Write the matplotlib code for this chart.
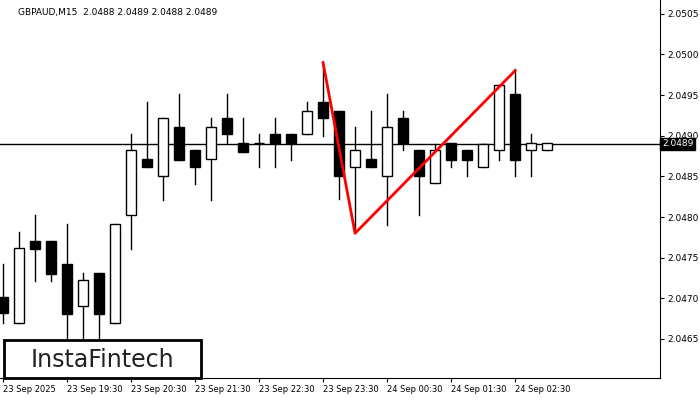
import matplotlib
matplotlib.use("Agg")
from matplotlib import pyplot as plt
from matplotlib.patches import Rectangle

# OHLC, GBPAUD M15
opens  = [2.04702, 2.0467, 2.04771, 2.04771, 2.04742, 2.04691, 2.04731, 2.0467, 2.04802, 2.04871,
          2.04851, 2.04911, 2.04882, 2.04871, 2.04922, 2.04891, 2.04891, 2.04902, 2.04902, 2.04902,
          2.04942, 2.04931, 2.04862, 2.04871, 2.0485, 2.04922, 2.04882, 2.04842, 2.04891, 2.04882,
          2.04862, 2.04882, 2.04951, 2.04882, 2.04882]
highs  = [2.04742, 2.04782, 2.04802, 2.04771, 2.04791, 2.04731, 2.04731, 2.04791, 2.04902, 2.04942,
          2.04922, 2.04951, 2.04882, 2.04922, 2.04951, 2.04922, 2.04902, 2.04922, 2.04902, 2.04942,
          2.0499, 2.04931, 2.04911, 2.04931, 2.04951, 2.04931, 2.04882, 2.0489, 2.04891, 2.04882,
          2.0489, 2.04962, 2.04982, 2.04902, 2.04891]
lows   = [2.0467, 2.0467, 2.04721, 2.04721, 2.04646, 2.04646, 2.04646, 2.0467, 2.04761, 2.04861,
          2.04821, 2.0487, 2.04841, 2.04821, 2.04891, 2.0488, 2.04861, 2.04861, 2.0487, 2.04902,
          2.0490, 2.04822, 2.04782, 2.04861, 2.0479, 2.04882, 2.04802, 2.04842, 2.04862, 2.0485,
          2.04862, 2.0487, 2.0485, 2.0485, 2.04882]
closes = [2.04682, 2.04762, 2.04761, 2.0473, 2.04681, 2.04722, 2.04681, 2.04791, 2.04882, 2.04861,
          2.04922, 2.0487, 2.04861, 2.04911, 2.04902, 2.0488, 2.04891, 2.04891, 2.04891, 2.04931,
          2.04922, 2.0485, 2.04882, 2.04861, 2.04911, 2.04891, 2.0485, 2.04882, 2.0487, 2.0487,
          2.0489, 2.04962, 2.0487, 2.04891, 2.04891]

time_ticks = [0, 4, 8, 12, 16, 20, 24, 28, 32]
time_labels = ["23 Sep 2025", "23 Sep 19:30", "23 Sep 20:30", "23 Sep 21:30", "23 Sep 22:30",
               "23 Sep 23:30", "24 Sep 00:30", "24 Sep 01:30", "24 Sep 02:30"]
price_ticks = [2.0465, 2.0470, 2.0475, 2.0480, 2.0485, 2.0490, 2.0495, 2.0500, 2.0505]
current = 2.0489

# pattern line (index, price)
pat_x = [20, 22, 32]
pat_y = [2.0499, 2.0478, 2.0498]

ylo, yhi = 2.04602, 2.05067

fig = plt.figure(figsize=(7, 4), dpi=100)
ax = fig.add_axes([0, 22/400, 660/700, 378/400])

w = 0.6
for i in range(len(opens)):
    o, h, l, c = opens[i], highs[i], lows[i], closes[i]
    ax.plot([i, i], [l, h], color="black", lw=1, zorder=2)
    lo, hi = min(o, c), max(o, c)
    face = "white" if c >= o else "black"
    ax.add_patch(Rectangle((i - w/2, lo), w, max(hi - lo, 0.000005), facecolor=face,
                           edgecolor="black", lw=1, zorder=3))

ax.axhline(current, color="black", lw=1, zorder=1)
ax.plot(pat_x, pat_y, color="red", lw=2, zorder=4)

ax.set_xlim(-0.19, 41.06)
ax.set_ylim(ylo, yhi)
ax.yaxis.tick_right()
ax.set_yticks(price_ticks)
ax.set_yticklabels([f"{p:.4f}" for p in price_ticks], fontsize=6.5)
ax.set_xticks(time_ticks)
ax.set_xticklabels(time_labels, fontsize=6, ha="left")
ax.tick_params(length=3, pad=2)
for s in ["top", "left"]:
    ax.spines[s].set_visible(False)

ax.text(1.003, (current - ylo) / (yhi - ylo), f"{current:.4f}", transform=ax.transAxes,
        fontsize=6.5, color="white", va="center", ha="left", zorder=10,
        bbox=dict(boxstyle="square,pad=0.2", facecolor="black", edgecolor="black"))

fig.text(18/700, 1 - 12/400, "GBPAUD,M15  2.0488 2.0489 2.0488 2.0489", fontsize=6.5, va="center")

logo = Rectangle((4/700, 22/400), 197/700, 38/400, transform=fig.transFigure,
                 facecolor="white", edgecolor="black", lw=2, zorder=5)
fig.patches.append(logo)
fig.text(102/700, 1 - 360/400, "InstaFintech", fontsize=17, ha="center", va="center",
         color="#222222", zorder=6)

plt.savefig("out.png")
